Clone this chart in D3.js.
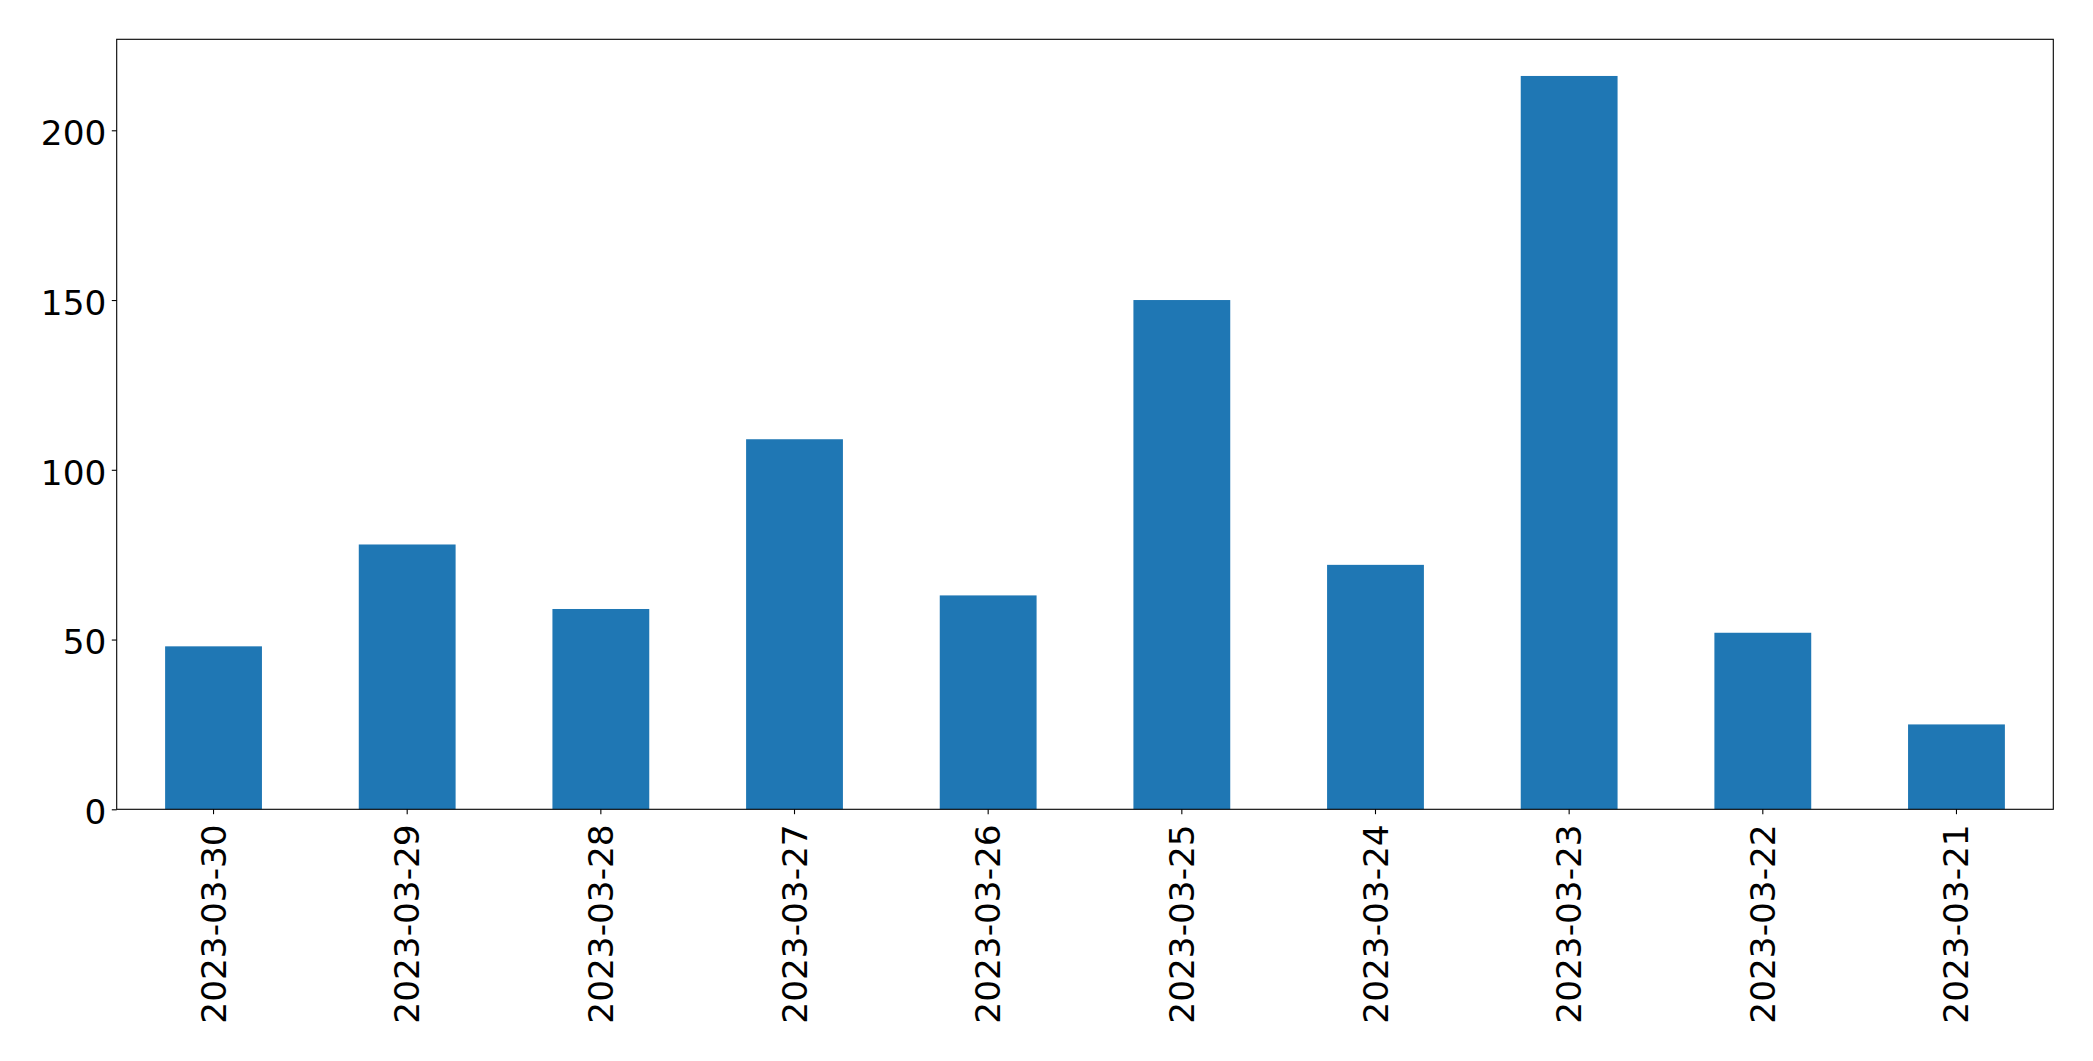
<!DOCTYPE html>
<html>
<head>
<meta charset="utf-8">
<script src="https://cdn.jsdelivr.net/npm/d3@7"></script>
<style>
html,body{margin:0;padding:0;background:#fff;}
svg{display:block;}
text{font-family:"DejaVu Sans",sans-serif;}
</style>
</head>
<body>
<script>
const categories = ["2023-03-30","2023-03-29","2023-03-28","2023-03-27","2023-03-26","2023-03-25","2023-03-24","2023-03-23","2023-03-22","2023-03-21"];
const values = [48, 78, 59, 109, 63, 150, 72, 216, 52, 25];
const yTicks = [0, 50, 100, 150, 200];

const W = 2093, H = 1061;
const m = {left: 116.7, top: 39.3, right: W - 2053.3, bottom: H - 809.3};
const iw = W - m.left - m.right, ih = H - m.top - m.bottom;

const svg = d3.select("body").append("svg").attr("width", W).attr("height", H);
const g = svg.append("g").attr("transform", `translate(${m.left},${m.top})`);

const x = d3.scaleBand().domain(categories).range([0, iw]).paddingInner(0.5).paddingOuter(0.25);
const y = d3.scaleLinear().domain([0, d3.max(values) * 1.05]).range([ih, 0]);

g.selectAll("rect.bar").data(values).join("rect")
  .attr("class", "bar")
  .attr("x", (d, i) => x(categories[i]))
  .attr("width", x.bandwidth())
  .attr("y", d => y(d))
  .attr("height", d => y(0) - y(d))
  .attr("fill", "#1f77b4");

const fs = 34.3;
const yAxis = g.append("g").call(d3.axisLeft(y).tickValues(yTicks).tickSize(4.9).tickPadding(5.5).tickFormat(d3.format("d")));
yAxis.select(".domain").remove();
yAxis.selectAll("line").attr("stroke", "#000").attr("stroke-width", 1.1);
yAxis.selectAll("text").attr("font-size", fs).attr("fill", "#000").attr("font-family", "DejaVu Sans").attr("dy", "0.42em");

const xAxis = g.append("g").attr("transform", `translate(0,${ih})`).call(d3.axisBottom(x).tickSize(4.9).tickPadding(4.9));
xAxis.select(".domain").remove();
xAxis.selectAll("line").attr("stroke", "#000").attr("stroke-width", 1.1);
xAxis.selectAll("text")
  .attr("font-size", fs).attr("fill", "#000").attr("font-family", "DejaVu Sans")
  .attr("transform", "rotate(-90)")
  .attr("text-anchor", "end")
  .attr("x", -15)
  .attr("y", 0)
  .attr("dy", "0.35em");

g.append("rect").attr("x", 0).attr("y", 0).attr("width", iw).attr("height", ih)
  .attr("fill", "none").attr("stroke", "#000").attr("stroke-width", 1.1);
</script>
</body>
</html>
